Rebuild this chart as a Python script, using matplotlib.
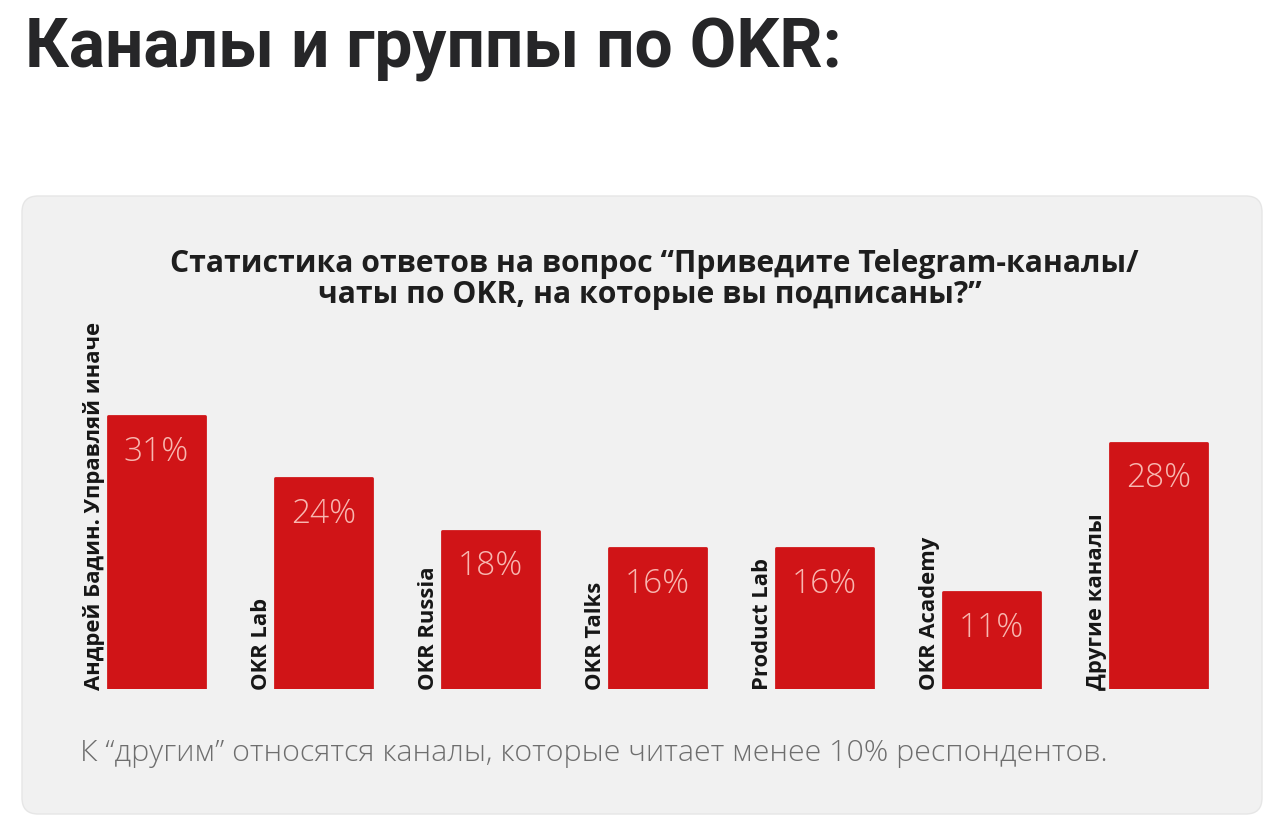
import matplotlib
matplotlib.use("Agg")
import matplotlib.pyplot as plt
from matplotlib.patches import FancyBboxPatch

# data
channels = [
    "Андрей Бадин. Управляй иначе",
    "OKR Lab",
    "OKR Russia",
    "OKR Talks",
    "Product Lab",
    "OKR Academy",
    "Другие каналы",
]
shares = [31, 24, 18, 16, 16, 11, 28]

page_title = "Каналы и группы по OKR:"
chart_title = ["Статистика ответов на вопрос “Приведите Telegram-каналы/",
               "чаты по OKR, на которые вы подписаны?”"]
footnote = "К “другим” относятся каналы, которые читает менее 10% респондентов."

W, H = 1280, 829
BAR_RED = "#d01417"
CARD_BG = "#f1f1f1"
PX_PER_PCT = 8.8

fig = plt.figure(figsize=(W / 100, H / 100), dpi=100)
fig.patch.set_facecolor("white")


def fx(px):
    return px / W


def fy(py):
    # y measured from the top, in pixels
    return 1 - py / H


# light grey card behind the chart
card = FancyBboxPatch((0.22, (H - 815) / 100), 12.40, (815 - 197) / 100,
                      boxstyle="round,pad=0,rounding_size=0.16",
                      transform=fig.dpi_scale_trans,
                      facecolor=CARD_BG, edgecolor="#e6e6e6", linewidth=1.0,
                      zorder=-5)
fig.patches.append(card)

fig.text(fx(25), fy(68), page_title, fontfamily="Roboto", fontweight="bold",
         fontsize=48.7, color="#262628", ha="left", va="baseline")

# chart title, two lines centred
fig.text(fx(654), fy(272), chart_title[0], fontfamily="Open Sans",
         fontweight="bold", fontsize=21.7, color="#1e1e1e",
         ha="center", va="baseline")
fig.text(fx(650), fy(303), chart_title[1], fontfamily="Open Sans",
         fontweight="bold", fontsize=21.7, color="#1e1e1e",
         ha="center", va="baseline")

fig.text(fx(594), fy(753), footnote, fontfamily="Open Sans",
         fontweight="light", fontsize=21.9, color="#6e6e6e",
         ha="center", va="center")

# bars: 167 px per slot, baseline at y=690
ax_left, ax_right = 40, 1240
ax_bottom, ax_h = 690, 400
ax = fig.add_axes([fx(ax_left), fy(ax_bottom), fx(ax_right - ax_left), ax_h / H])
ax.set_facecolor("none")
slot = 167.0
x0 = -(156.5 - ax_left) / slot
ax.set_xlim(x0, x0 + (ax_right - ax_left) / slot)
ax.set_ylim(0, ax_h / PX_PER_PCT)
ax.axis("off")

width = 97 / slot
xs = list(range(len(channels)))
bars = ax.bar(xs, shares, width=width, color=BAR_RED, edgecolor=BAR_RED,
              linewidth=2, joinstyle="round", zorder=2)

for x, v, name in zip(xs, shares, channels):
    ax.text(x, v - 35 / PX_PER_PCT, f"{v}%", fontfamily="Open Sans",
            fontweight="light", fontsize=24, color="#f8b7b0",
            ha="center", va="center", zorder=3)
    ax.text(x - width / 2 - 3 / slot, 0, name, rotation=90,
            rotation_mode="anchor", fontfamily="Open Sans",
            fontweight="bold", fontsize=15.8, color="#161616",
            ha="left", va="bottom", zorder=3)

fig.savefig("out.png", dpi=100, facecolor=fig.get_facecolor())
